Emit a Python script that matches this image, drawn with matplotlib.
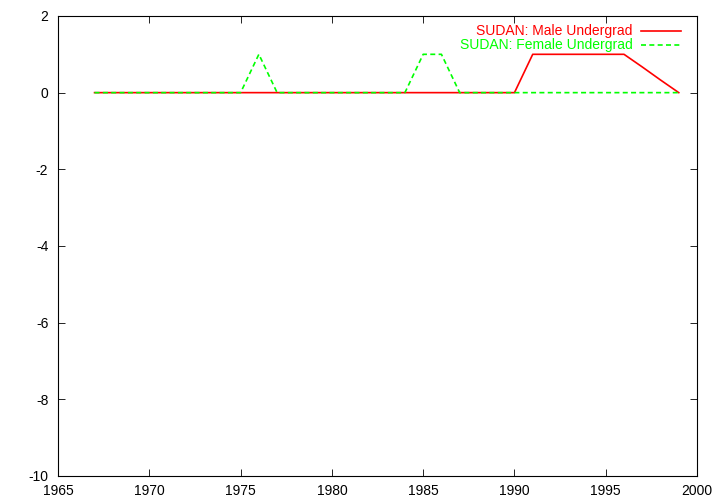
import matplotlib
matplotlib.use('Agg')
import matplotlib.pyplot as plt

plt.rcParams['font.family'] = ['Liberation Sans', 'DejaVu Sans']
plt.rcParams['font.size'] = 10
plt.rcParams['axes.unicode_minus'] = False

years = list(range(1967, 2000))
male = [0]*24 + [1, 1, 1, 1, 1, 1, 0.67, 0.33, 0]
female = [0]*9 + [1] + [0]*8 + [1, 1] + [0]*13

fig = plt.figure(figsize=(7.2, 5.04), dpi=100)
ax = fig.add_axes([0.0806, 0.0556, 0.8875, 0.9127])
ax.plot(years, male, color='#ff0000', lw=1.2, label='SUDAN: Male Undergrad')
ax.plot(years, female, color='#00ff00', lw=1.2, ls=(0, (3, 2)), label='SUDAN: Female Undergrad')

ax.set_xlim(1965, 2000)
ax.set_ylim(-10, 2)
ax.set_xticks(range(1965, 2001, 5))
ax.set_yticks(range(-10, 3, 2))
ax.tick_params(direction='in', top=True, right=True, length=5, width=0.6, labelsize=10)
ax.tick_params(axis='y', pad=7)
ax.tick_params(axis='x', pad=6)
for s in ax.spines.values():
    s.set_linewidth(0.8)

ax.legend(loc='upper right', frameon=False, markerfirst=False, labelcolor='linecolor',
          handlelength=2.9, handletextpad=0.6, borderaxespad=0, borderpad=0,
          labelspacing=0.0, fontsize=10,
          bbox_to_anchor=(681/720, 1 - 24.5/504), bbox_transform=fig.transFigure)

fig.savefig('out.png', dpi=100)
